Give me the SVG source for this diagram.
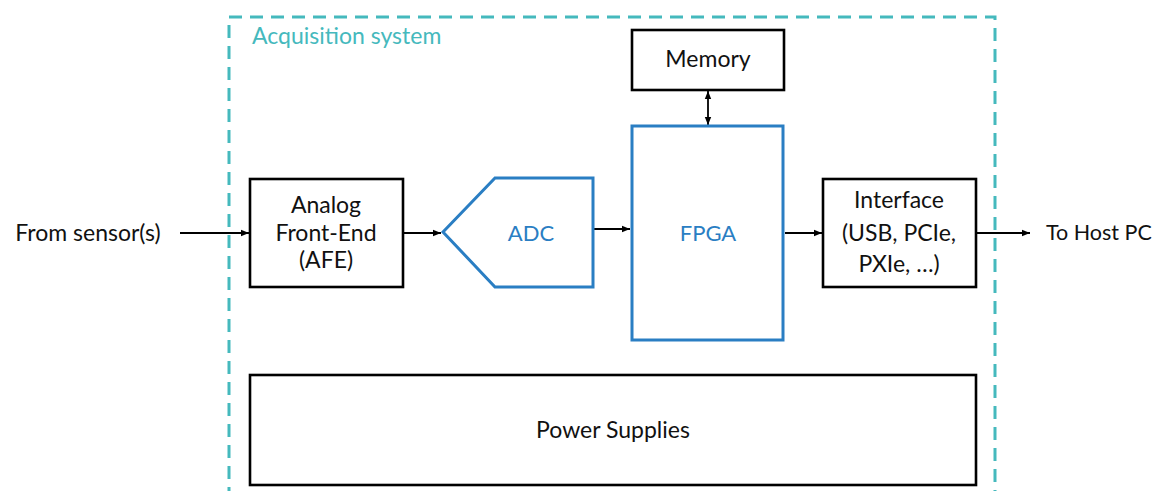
<svg xmlns="http://www.w3.org/2000/svg" width="1157" height="491" viewBox="0 0 1157 491">
<defs>
<style>
.box{fill:#fff;stroke:#000;stroke-width:2.6}
.blue{fill:#fff;stroke:#2a7ec3;stroke-width:3}
.t{font-family:Lato,"Open Sans","Liberation Sans",sans-serif;font-size:23px;fill:#111;text-anchor:middle}
.tb{font-family:Lato,"Open Sans","Liberation Sans",sans-serif;font-size:22px;fill:#2a7ec3;text-anchor:middle}
.c{stroke:#000;stroke-width:1.8;fill:none}
</style>
<marker id="ah" viewBox="0 0 10 10" refX="10" refY="5" markerWidth="8" markerHeight="8" markerUnits="userSpaceOnUse" orient="auto-start-reverse">
<path d="M0,1 L10,5 L0,9 z" fill="#000"/>
</marker>
</defs>
<rect width="1157" height="491" fill="#fff"/>
<g id="acquisition-system">
<path d="M229,500 L229,17 L995,17 L995,500" fill="none" stroke="#45b9bd" stroke-width="3" stroke-dasharray="13,8"/>
<text x="252" y="44" font-family="Lato,'Open Sans','Liberation Sans',sans-serif" font-size="23" fill="#45b9bd">Acquisition system</text>
</g>
<g id="connectors">
<line class="c" x1="180" y1="233" x2="249" y2="233" marker-end="url(#ah)"/>
<line class="c" x1="404" y1="233" x2="441" y2="233" marker-end="url(#ah)"/>
<line class="c" x1="594" y1="229" x2="630" y2="229" marker-end="url(#ah)"/>
<line class="c" x1="785" y1="233" x2="822" y2="233" marker-end="url(#ah)"/>
<line class="c" x1="977" y1="233" x2="1030" y2="233" marker-end="url(#ah)"/>
<line class="c" x1="708" y1="91" x2="708" y2="125" marker-start="url(#ah)" marker-end="url(#ah)"/>
</g>
<g id="from-sensor"><text class="t" x="88" y="241">From sensor(s)</text></g>
<g id="to-host"><text class="t" x="1046" y="240" style="text-anchor:start;font-size:21.5px">To Host PC</text></g>
<g id="memory">
<rect class="box" x="632" y="30" width="152" height="60"/>
<text class="t" x="708" y="67">Memory</text>
</g>
<g id="afe">
<rect class="box" x="250" y="179" width="153" height="108"/>
<text class="t" x="326" y="213">Analog</text>
<text class="t" x="326" y="241">Front-End</text>
<text class="t" x="326" y="268">(AFE)</text>
</g>
<g id="adc">
<path class="blue" d="M443,232 L495,178 L593,178 L593,287 L495,287 Z"/>
<text class="tb" x="531" y="241">ADC</text>
</g>
<g id="fpga">
<rect class="blue" x="632" y="126" width="151" height="214"/>
<text class="tb" x="708" y="241">FPGA</text>
</g>
<g id="interface">
<rect class="box" x="823" y="179" width="153" height="108"/>
<text class="t" x="899" y="208">Interface</text>
<text class="t" x="899" y="241">(USB, PCIe,</text>
<text class="t" x="899" y="272">PXIe, …)</text>
</g>
<g id="power-supplies">
<rect class="box" x="250" y="375" width="726" height="110"/>
<text class="t" x="613" y="438">Power Supplies</text>
</g>
</svg>
